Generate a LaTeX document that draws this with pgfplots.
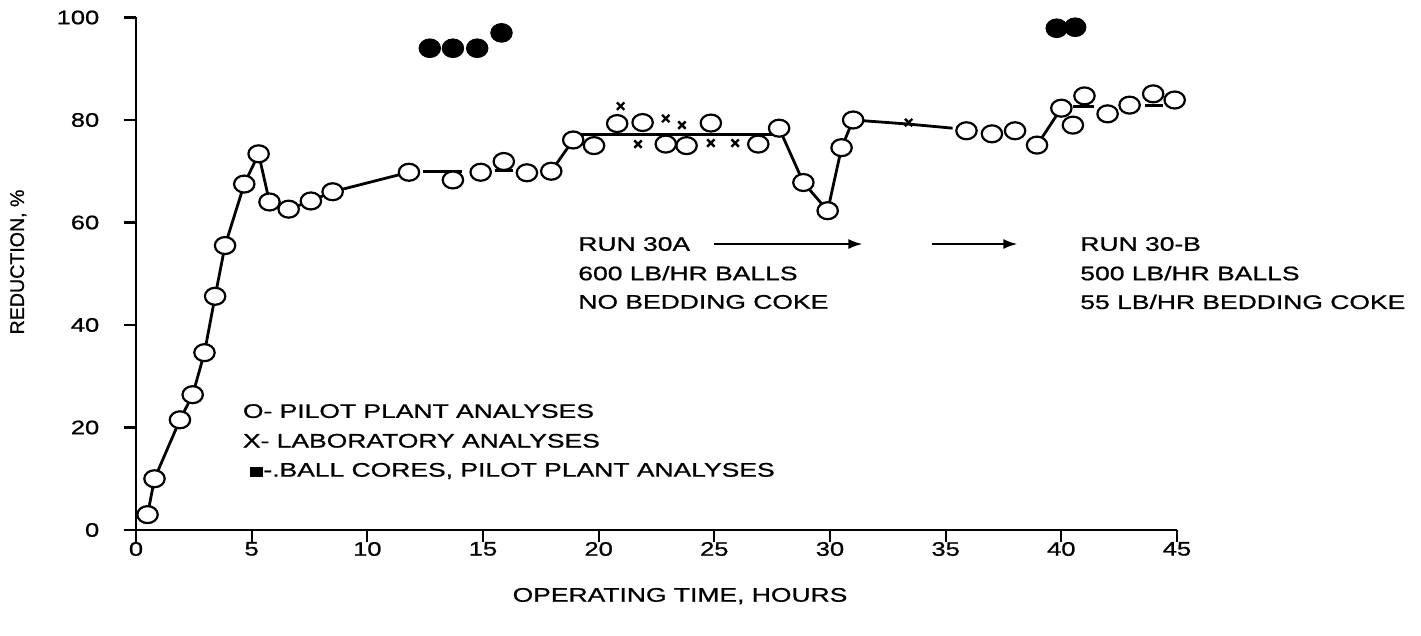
\documentclass[border=0pt]{standalone}
\usepackage{fontspec}
\setmainfont{Liberation Sans}
\newfontfamily\heavy{Liberation Sans}[FakeBold=0.8]
\usepackage{pgfplots}
\pgfplotsset{compat=1.18}
\usetikzlibrary{arrows.meta}
\newcommand{\lab}{\heavy\fontsize{9.8}{11}\selectfont}
\begin{document}
\begin{tikzpicture}
\begin{axis}[
  at={(0,0)}, anchor=south west,
  scale only axis, width=520.5pt, height=256.25pt,
  xmin=0, xmax=45, ymin=0, ymax=100,
  axis x line*=bottom, axis y line*=left,
  axis line style={line width=1.3pt, -},
  xtick={0,5,...,45}, ytick={0,20,...,100},
  xtick align=outside, ytick align=outside, major tick length=6pt,
  tick style={line width=1.1pt, black},
  /pgf/number format/assume math mode=true,
  tick label style={font=\lab, xscale=1.3},
  xticklabel style={yshift=3.5pt},
  yticklabel style={xshift=-6pt},
  xlabel={OPERATING TIME, HOURS},
  ylabel={REDUCTION, \%},
  xlabel style={font=\lab, xscale=1.35, at={(axis description cs:0.5226,-0.129)}, anchor=center},
  ylabel style={font=\lab, at={(axis description cs:-0.113,0.523)}, anchor=center},
  clip=false,
]
% connecting lines
\addplot[black, line width=1.4pt, no markers] coordinates {
(0.5,3) (0.8,10) (1.9,21.5) (2.45,26.4) (2.96,34.6) (3.42,45.6) (3.85,55.5)
(4.68,67.5) (5.3,73.4) (5.77,64.0) (6.6,62.6) (7.56,64.2) (8.5,66.0) (11.8,69.8)};
\addplot[black, line width=1.4pt, no markers] coordinates {(12.4,70.0) (14.1,70.0)};
\addplot[black, line width=1.4pt, no markers] coordinates {(15.5,70.2) (16.3,70.2)};
\addplot[black, line width=1.4pt, no markers] coordinates {(17.95,70.0) (18.9,76.1)};
\addplot[black, line width=1.4pt, no markers] coordinates {(19.2,77.1) (27.7,77.1)};
\addplot[black, line width=1.4pt, no markers] coordinates {
(27.8,78.4) (28.85,67.8) (29.9,62.3) (30.5,74.6) (31.0,80.0) (33.4,79.2) (35.3,78.4)};
\addplot[black, line width=1.4pt, no markers] coordinates {(38.95,75.1) (40.0,82.3)};
\addplot[black, line width=1.4pt, no markers] coordinates {(40.5,82.6) (41.4,82.6)};
\addplot[black, line width=1.4pt, no markers] coordinates {(43.6,82.9) (44.4,82.9)};
% pilot plant analyses (open circles)
\addplot[only marks, mark=*, mark size=4.25pt,
  mark options={fill=white, draw=black, line width=1.1pt, xscale=1.2}] coordinates {
(0.5,3) (0.8,10) (1.9,21.5) (2.45,26.4) (2.96,34.6) (3.42,45.6) (3.85,55.5)
(4.68,67.5) (5.3,73.4) (5.77,64.0) (6.6,62.6) (7.56,64.2) (8.5,66.0) (11.8,69.8)
(13.7,68.3) (14.9,69.8) (15.9,71.9) (16.9,69.7) (17.95,70.0) (18.9,76.1) (19.8,75.0)
(20.8,79.3) (21.9,79.5) (22.9,75.3) (23.8,75.0) (24.85,79.4) (26.9,75.3) (27.8,78.4)
(28.85,67.8) (29.9,62.3) (30.5,74.6) (31.0,80.0) (35.9,77.9) (37.0,77.3) (38.0,77.9)
(38.95,75.1) (40.0,82.3) (40.5,79.0) (41.0,84.7) (42.0,81.2) (42.95,82.9) (43.97,85.1)
(44.9,83.9)};
% laboratory analyses (x)
\addplot[only marks, mark=x, mark size=2.6pt, mark options={line width=1.2pt, black}] coordinates {
(20.95,82.7) (21.7,75.3) (22.9,80.3) (23.6,79.0) (24.85,75.5) (25.9,75.5) (33.4,79.5)};
% ball cores (filled)
\addplot[only marks, mark=*, mark size=4.7pt, mark options={fill=black, draw=black, xscale=1.15}] coordinates {
(12.7,94.0) (13.7,94.0) (14.75,94.0) (15.8,97.0) (39.8,97.9) (40.6,98.1)};
% annotations
\begin{scope}[every node/.style={anchor=west, font=\lab, xscale=1.35, inner sep=0pt}]
\node at (axis cs:19.1,55.8) {RUN 30A};
\node at (axis cs:19.1,50.1) {600 LB/HR BALLS};
\node at (axis cs:19.1,44.5) {NO BEDDING COKE};
\node at (axis cs:40.8,55.8) {RUN 30-B};
\node at (axis cs:40.8,50.1) {500 LB/HR BALLS};
\node at (axis cs:40.8,44.5) {55 LB/HR BEDDING COKE};
\node at (axis cs:4.6,23.2) {O- PILOT PLANT ANALYSES};
\node at (axis cs:4.6,17.4) {X- LABORATORY ANALYSES};
\node at (axis cs:4.9,11.5) {\rule{5pt}{5pt}-.BALL CORES, PILOT PLANT ANALYSES};
\end{scope}
\draw[line width=1pt, -{Latex[length=7pt,width=5pt]}] (axis cs:25.0,55.8) -- (axis cs:31.4,55.8);
\draw[line width=1pt, -{Latex[length=7pt,width=5pt]}] (axis cs:34.4,55.8) -- (axis cs:38.1,55.8);
\end{axis}
\pgfresetboundingbox
\path (-68pt,-53pt) rectangle (642.5pt,265pt);
\end{tikzpicture}
\end{document}
